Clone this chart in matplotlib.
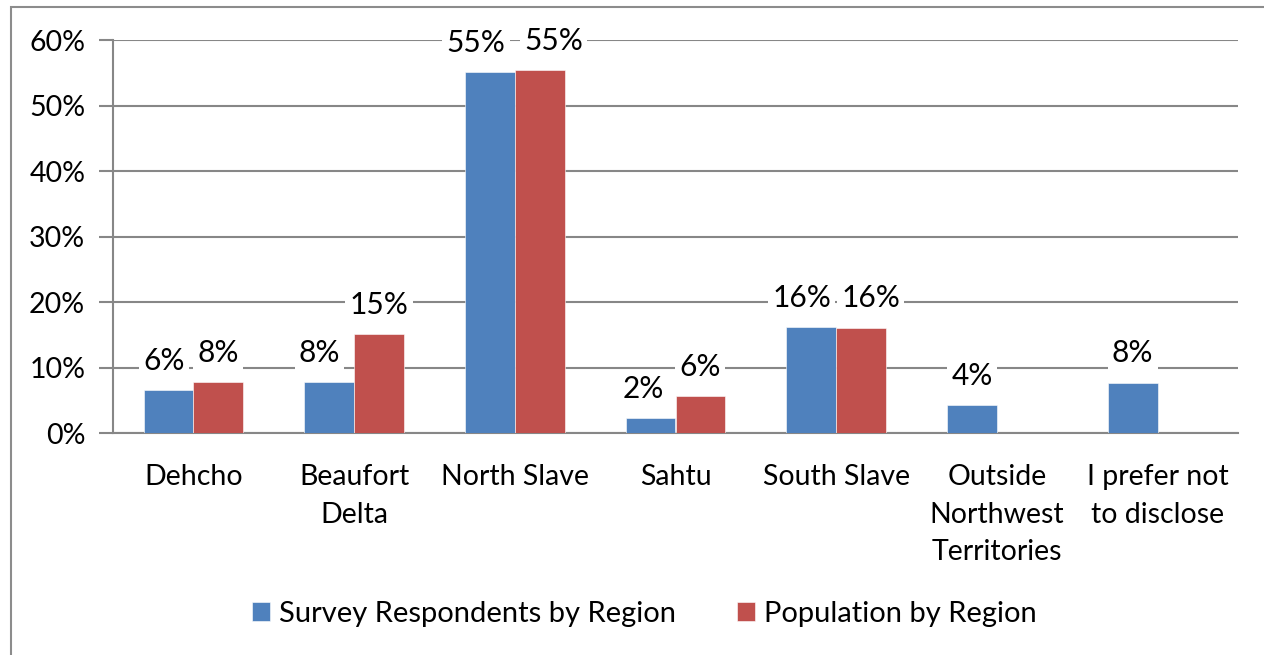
import matplotlib
matplotlib.use("Agg")
import matplotlib.pyplot as plt
import numpy as np
from matplotlib.patches import Rectangle

plt.rcParams['font.family'] = ['Lato', 'DejaVu Sans']

categories = ["Dehcho", "Beaufort\nDelta", "North Slave", "Sahtu", "South Slave",
              "Outside\nNorthwest\nTerritories", "I prefer not\nto disclose"]
survey = [6.5, 7.8, 55.1, 2.3, 16.2, 4.3, 7.7]
population = [7.8, 15.1, 55.4, 5.6, 16.1, None, None]
survey_labels = ["6%", "8%", "55%", "2%", "16%", "4%", "8%"]
population_labels = ["8%", "15%", "55%", "6%", "16%", None, None]
series_names = ["Survey Respondents by Region", "Population by Region"]
yticks = [0, 10, 20, 30, 40, 50, 60]
ytick_labels = ["0%", "10%", "20%", "30%", "40%", "50%", "60%"]

# label horizontal nudges (points) to mimic Excel label placement
survey_dx = [-3, -7, -10, -5, -7, 0, 0]
population_dx = [0, 0, 10, 0, 7, 0, 0]

blue = "#4F81BD"
red = "#C0504D"
grid = "#878787"

fig = plt.figure(figsize=(12.64, 6.55), dpi=100)
ax = fig.add_axes([113/1264, (655-433)/655, (1238-113)/1264, (433-40)/655])

x = np.arange(len(categories))
w = 0.31
sv = np.array(survey, dtype=float)
pv = np.array([np.nan if v is None else v for v in population], dtype=float)
b1 = ax.bar(x - w/2, sv, w, color=blue, label=series_names[0], zorder=3,
            edgecolor="#ffffff", linewidth=0.4)
b2 = ax.bar(x + w/2, pv, w, color=red, label=series_names[1], zorder=3,
            edgecolor="#ffffff", linewidth=0.4)

lab_fs = 21.5
for xi, v, lab, dx in zip(x - w/2, sv, survey_labels, survey_dx):
    ax.annotate(lab, (xi, v), xytext=(dx, 14.5), textcoords="offset points",
                ha="center", va="baseline", fontsize=lab_fs, zorder=4,
                bbox=dict(facecolor="white", edgecolor="none", pad=3))
for xi, v, lab, dx in zip(x + w/2, pv, population_labels, population_dx):
    if lab is None or np.isnan(v):
        continue
    ax.annotate(lab, (xi, v), xytext=(dx, 14.5), textcoords="offset points",
                ha="center", va="baseline", fontsize=lab_fs, zorder=4,
                bbox=dict(facecolor="white", edgecolor="none", pad=3))

ax.set_xlim(-0.5, len(categories) - 0.5)
ax.set_ylim(0, 60)
ax.set_yticks(yticks)
ax.set_yticklabels(ytick_labels, fontsize=20.5)
ax.set_xticks(x)
ax.set_xticklabels(categories, fontsize=20.5, linespacing=1.55, va="top")
ax.tick_params(axis="x", length=0, pad=22.5)
ax.tick_params(axis="y", length=10, width=1.5, color=grid, pad=10)
ax.yaxis.grid(True, color=grid, linewidth=1.5, zorder=0)
ax.set_axisbelow(True)
for s in ["top", "right"]:
    ax.spines[s].set_visible(False)
for s in ["left", "bottom"]:
    ax.spines[s].set_color(grid)
    ax.spines[s].set_linewidth(1.5)

leg = fig.legend(handles=[b1, b2], loc="center", bbox_to_anchor=(644/1264, 1 - 614/655),
                 ncol=2, frameon=False, fontsize=21, handlelength=0.62, handleheight=0.62,
                 handletextpad=0.3, columnspacing=2.1, borderpad=0, borderaxespad=0)

fig.patches.append(Rectangle((11/1264, -0.01), 1.1, 1 - 7/655 + 0.01, transform=fig.transFigure,
                             fill=False, edgecolor="#8c8c8c", linewidth=1.5))

fig.savefig("out.png", dpi=100)
